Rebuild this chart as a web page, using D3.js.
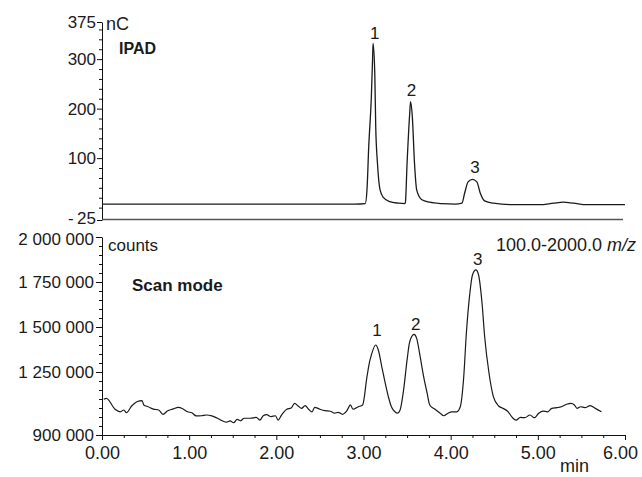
<!DOCTYPE html>
<html>
<head>
<meta charset="utf-8">
<script src="https://cdn.jsdelivr.net/npm/d3@7"></script>
<style>
  body { margin: 0; background: #fff; }
  svg { display: block; font-family: 'Liberation Sans', Arial, sans-serif; }
  .axis path, .axis line { stroke: #111; }
  .axis text { font-size: 17px; fill: #1a1a1a; font-family: 'Liberation Sans', Arial, sans-serif; }
  .axis.x text { font-size: 18px; }
  .label { fill: #1a1a1a; }
</style>
</head>
<body>
<div class="container"></div>
<script>
// retention time axis (min)
const timeTicks = [0, 1, 2, 3, 4, 5, 6]

// IPAD trace, nC
const ipadTicks = [-25, 100, 200, 300, 375]
const ipadTime = [0, 1.0, 2.0, 2.9, 3.02, 3.04, 3.06, 3.09, 3.105, 3.11, 3.13, 3.14, 3.16, 3.19, 3.23, 3.3, 3.4,
  3.47, 3.48, 3.5, 3.53, 3.54, 3.56, 3.585, 3.61, 3.67, 3.76, 3.9, 4.05, 4.13, 4.16, 4.2, 4.25, 4.3, 4.34,
  4.39, 4.49, 4.72, 5.02, 5.18, 5.29, 5.41, 5.56, 6.0]
const ipadSignal = [7, 7, 7, 7, 8, 36, 123, 224, 306, 332, 267, 166, 90, 36, 20, 12, 9,
  8, 10, 90, 190, 214, 184, 90, 36, 16, 11, 8, 7, 9, 29, 52, 57, 52, 29,
  13.5, 9, 6, 6, 9, 11, 9, 6, 6]

// MS scan trace, counts
const scanTicks = [900000, 1250000, 1500000, 1750000, 2000000]
const scanTime = [0.02, 0.05, 0.15, 0.21, 0.25, 0.28, 0.34, 0.4, 0.46, 0.48, 0.53, 0.59, 0.65, 0.7, 0.75,
  0.81, 0.88, 0.93, 0.98, 1.03, 1.08, 1.14, 1.2, 1.26, 1.32, 1.38, 1.43, 1.47, 1.51, 1.55, 1.59, 1.63,
  1.7, 1.77, 1.81, 1.85, 1.89, 1.94, 1.99, 2.02, 2.06, 2.12, 2.17, 2.21, 2.25, 2.29, 2.33, 2.37, 2.41,
  2.44, 2.5, 2.56, 2.62, 2.67, 2.71, 2.76, 2.81, 2.85, 2.88, 2.94, 2.99, 3.04, 3.07, 3.09, 3.14, 3.17,
  3.21, 3.25, 3.29, 3.32, 3.36, 3.39, 3.42, 3.46, 3.5, 3.53, 3.58, 3.61, 3.65, 3.69, 3.73, 3.76, 3.82,
  3.88, 3.92, 3.97, 4.01, 4.07, 4.11, 4.15, 4.18, 4.22, 4.25, 4.29, 4.32, 4.36, 4.39, 4.44, 4.49, 4.55,
  4.6, 4.66, 4.7, 4.75, 4.8, 4.85, 4.91, 4.96, 5.01, 5.06, 5.11, 5.16, 5.22, 5.27, 5.33, 5.38, 5.42,
  5.45, 5.49, 5.54, 5.6, 5.66, 5.73]
const scanCounts = [1098000, 1104000, 1043000, 1029000, 1039000, 1024000, 1061000, 1085000, 1091000,
  1067000, 1057000, 1044000, 1039000, 1015000, 1033000, 1044000, 1054000, 1044000, 1029000, 1024000,
  1006000, 1007000, 1011000, 1006000, 994000, 979000, 971000, 978000, 968000, 987000, 979000, 993000,
  993000, 998000, 983000, 1007000, 1013000, 1002000, 1007000, 983000, 1011000, 1043000, 1050000,
  1076000, 1061000, 1048000, 1063000, 1043000, 1029000, 1054000, 1043000, 1035000, 1032000, 1021000,
  1026000, 1015000, 1035000, 1067000, 1043000, 1057000, 1067000, 1224000, 1307000, 1344000, 1400000,
  1372000, 1279000, 1187000, 1104000, 1057000, 1029000, 1021000, 1039000, 1150000, 1317000, 1418000,
  1459000, 1437000, 1335000, 1224000, 1132000, 1067000, 1043000, 1021000, 1007000, 1021000, 1029000,
  1029000, 1057000, 1224000, 1465000, 1687000, 1789000, 1817000, 1789000, 1632000, 1446000, 1243000,
  1113000, 1061000, 1048000, 1029000, 1002000, 983000, 998000, 996000, 1011000, 996000, 1021000,
  1033000, 1029000, 1048000, 1052000, 1057000, 1071000, 1076000, 1067000, 1048000, 1057000, 1052000,
  1063000, 1048000, 1029000]

// peak numbers, anchored at (time, value)
const peakNames = ['1', '2', '3']
const ipadPeakTime = [3.13, 3.55, 4.28]
const ipadPeakValue = [340, 226, 70]
const scanPeakTime = [3.155, 3.6, 4.31]
const scanPeakValue = [1450000, 1483000, 1842000]

const width = 642
const height = 477

const svg = d3.select('.container').append('svg')
  .attr('width', width)
  .attr('height', height)

const x = d3.scaleLinear().domain([0, 6]).range([102, 625])
const yTop = d3.scaleLinear().domain([-25, 375]).range([220, 22])
const yBottom = d3.scaleLinear().domain([900000, 2000000]).range([435, 237])

const spaced = d3.formatLocale({ decimal: '.', thousands: ' ', grouping: [3], currency: ['', ''] }).format(',d')

const minorOf = (start, stop, step, majors) =>
  d3.range(start, stop + step / 2, step).filter(v => !majors.some(m => Math.abs(m - v) < step / 10))

const yAxis = (scale, majors, minors, format, size, pad) => {
  svg.append('g').attr('class', 'axis minor')
    .attr('transform', `translate(${ x(0) },0)`)
    .call(d3.axisLeft(scale).tickValues(minors).tickSize(3).tickFormat(''))
    .call(g => g.select('.domain').remove())
  return svg.append('g').attr('class', 'axis')
    .attr('transform', `translate(${ x(0) },0)`)
    .call(d3.axisLeft(scale).tickValues(majors).tickSize(size).tickSizeOuter(0).tickPadding(pad).tickFormat(format))
}

// top panel
yAxis(yTop, ipadTicks, minorOf(0, 360, 20, ipadTicks),
  d => d < 0 ? '-\u2009' + Math.abs(d) : d, 5, 1)
  .call(g => g.selectAll('.tick text').filter(d => d === -25).attr('dy', '0.2em'))

svg.append('line')
  .attr('x1', x(0)).attr('x2', x(6) - 2)
  .attr('y1', yTop(-25) - 0.5).attr('y2', yTop(-25) - 0.5)
  .attr('stroke', '#555').attr('stroke-width', 1.6)

const ipadLine = d3.line()
  .x(d => x(d[0]))
  .y(d => yTop(d[1]))
  .curve(d3.curveMonotoneX)

svg.append('path')
  .datum(d3.zip(ipadTime, ipadSignal))
  .attr('d', ipadLine)
  .attr('fill', 'none')
  .attr('stroke', '#1a1a1a')
  .attr('stroke-width', 1.3)

svg.append('text').attr('class', 'label')
  .attr('x', 106).attr('y', 30)
  .attr('font-size', 18)
  .text('nC')

svg.append('text').attr('class', 'label')
  .attr('x', 119).attr('y', 54)
  .attr('font-size', 16).attr('font-weight', 'bold')
  .text('IPAD')

svg.selectAll('text.ipad-peak')
  .data(peakNames)
  .enter().append('text')
  .attr('class', 'label ipad-peak')
  .attr('x', (d, i) => x(ipadPeakTime[i]))
  .attr('y', (d, i) => yTop(ipadPeakValue[i]))
  .attr('text-anchor', 'middle')
  .attr('font-size', 17)
  .text(d => d)

// bottom panel
yAxis(yBottom, scanTicks, minorOf(950000, 1950000, 50000, scanTicks), spaced, 6, 2)
  .call(g => g.selectAll('.tick text').filter(d => d === 2000000).attr('dy', '0.45em'))

svg.append('g').attr('class', 'axis minor')
  .attr('transform', `translate(0,${ yBottom(900000) })`)
  .call(d3.axisBottom(x).tickValues(minorOf(0.25, 5.75, 0.25, timeTicks)).tickSize(3).tickFormat(''))
  .call(g => g.select('.domain').remove())

svg.append('g').attr('class', 'axis x')
  .attr('transform', `translate(0,${ yBottom(900000) })`)
  .call(d3.axisBottom(x).tickValues(timeTicks).tickSize(5).tickSizeOuter(0).tickPadding(6).tickFormat(d3.format('.2f')))
  .call(g => g.selectAll('.tick text').filter(d => d === 6).attr('dx', -5))

const scanLine = d3.line()
  .x(d => x(d[0]))
  .y(d => yBottom(d[1]))
  .curve(d3.curveMonotoneX)

svg.append('path')
  .datum(d3.zip(scanTime, scanCounts))
  .attr('d', scanLine)
  .attr('fill', 'none')
  .attr('stroke', '#1a1a1a')
  .attr('stroke-width', 1.2)

svg.append('text').attr('class', 'label')
  .attr('x', 108).attr('y', 251)
  .attr('font-size', 17)
  .text('counts')

const mz = svg.append('text').attr('class', 'label')
  .attr('x', 636).attr('y', 251)
  .attr('font-size', 18)
  .attr('text-anchor', 'end')
mz.append('tspan').text('100.0-2000.0 ')
mz.append('tspan').attr('font-style', 'italic').text('m/z')

svg.append('text').attr('class', 'label')
  .attr('x', 132).attr('y', 291)
  .attr('font-size', 17).attr('font-weight', 'bold')
  .text('Scan mode')

svg.selectAll('text.scan-peak')
  .data(peakNames)
  .enter().append('text')
  .attr('class', 'label scan-peak')
  .attr('x', (d, i) => x(scanPeakTime[i]))
  .attr('y', (d, i) => yBottom(scanPeakValue[i]))
  .attr('text-anchor', 'middle')
  .attr('font-size', 17)
  .text(d => d)

svg.append('text').attr('class', 'label')
  .attr('x', 560).attr('y', 472)
  .attr('font-size', 18)
  .text('min')
</script>
</body>
</html>
